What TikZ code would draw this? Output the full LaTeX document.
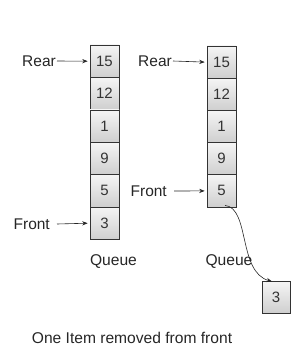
\documentclass[tikz,border=0pt]{standalone}
\usepackage{fontspec}
\setmainfont{Liberation Sans}
\usetikzlibrary{arrows.meta}
\begin{document}
\begin{tikzpicture}[x=1pt,y=-1pt,
  cell/.style={draw=black!80, line width=0.6pt, top color=gray!8, bottom color=gray!38,
    minimum width=29pt, minimum height=32.4pt, inner sep=0pt, font=\fontsize{15}{15}\selectfont, text=black!80},
  lbl/.style={inner sep=0pt, anchor=east, font=\fontsize{15.5}{15.5}\selectfont, text=black!85},
  captxt/.style={inner sep=0pt, font=\fontsize{15.6}{15.6}\selectfont, text=black!85},
  arr/.style={-{Stealth[length=5.5pt,width=4.2pt]}, line width=0.6pt, black!85}]
\useasboundingbox (0,0) rectangle (296,353);
% left stack
\node[cell] (l15) at (104.5,61.2) {15};
\node[cell] (l12) at (104.5,93.6) {12};
\node[cell] (l1)  at (104.5,126.0) {1};
\node[cell] (l9)  at (104.5,158.4) {9};
\node[cell] (l5)  at (104.5,190.8) {5};
\node[cell] (l3)  at (104.5,223.2) {3};
% right stack
\node[cell] (r15) at (221.5,62.1) {15};
\node[cell] (r12) at (221.5,94.3) {12};
\node[cell] (r1)  at (221.5,126.5) {1};
\node[cell] (r9)  at (221.5,158.7) {9};
\node[cell] (r5)  at (221.5,190.9) {5};
% removed item
\node[cell, minimum width=28pt, minimum height=31.5pt] (s3) at (276,297.5) {3};
% labels
\node[lbl] (lrear) at (56,61) {Rear};
\node[lbl] (lfront) at (50,224) {Front};
\node[lbl] (rrear) at (172,61) {Rear};
\node[lbl] (rfront) at (167,191) {Front};
\draw[arr] ([xshift=1pt]lrear.east) -- ([xshift=-2pt]l15.west);
\draw[arr] ([xshift=7pt]lfront.east) -- ([xshift=-2pt]l3.west);
\draw[arr] ([xshift=1pt]rrear.east) -- ([xshift=-2pt]r15.west);
\draw[arr] ([xshift=7pt]rfront.east) -- ([xshift=-2pt]r5.west);
% queue captions
\node[captxt] (q1) at (113.5,262) {Queue};
\node[captxt] (q2) at (229,262) {Queue};
\node[captxt] (title) at (132,338) {One Item removed from front};
% curve
\draw[arr]
  ([xshift=3.5pt,yshift=2pt]r5.south) .. controls (250,208) and (238,272) .. ([xshift=-4pt]s3.north);
\end{tikzpicture}
\end{document}
